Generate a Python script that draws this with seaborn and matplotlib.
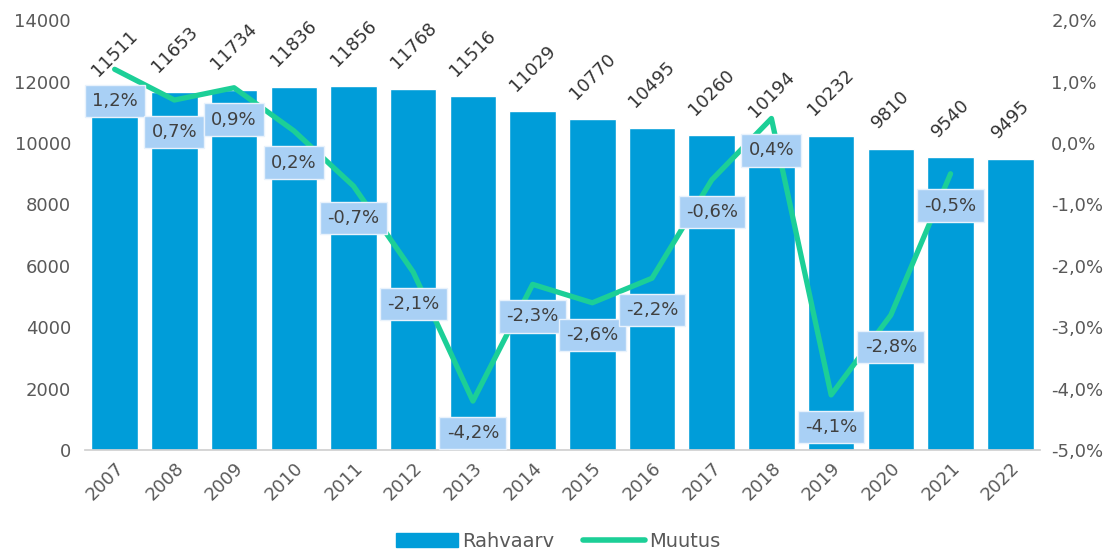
import seaborn as sns
import pandas as pd
import matplotlib.pyplot as plt
from matplotlib.lines import Line2D
from matplotlib.patches import Patch

years = [str(y) for y in range(2007, 2023)]
rahvaarv = [11511, 11653, 11734, 11836, 11856, 11768, 11516, 11029,
            10770, 10495, 10260, 10194, 10232, 9810, 9540, 9495]
muutus = [1.2, 0.7, 0.9, 0.2, -0.7, -2.1, -4.2, -2.3, -2.6, -2.2,
          -0.6, 0.4, -4.1, -2.8, -0.5]

bar_col = "#009DD9"
line_col = "#1CCF97"
txt_col = "#595959"

sns.set_theme(style="white")
plt.rcParams['font.family'] = ['DejaVu Sans']

df = pd.DataFrame({"aasta": years, "Rahvaarv": rahvaarv})
df2 = pd.DataFrame({"pos": list(range(len(muutus))), "Muutus": muutus})

fig = plt.figure(figsize=(11.16, 5.6), dpi=100)
ax = fig.add_axes([0.076, 0.196, 0.856, 0.768])
sns.barplot(data=df, x="aasta", y="Rahvaarv", color=bar_col, saturation=1,
            width=0.78, ax=ax)
ax.set_ylim(0, 14000)
ax.set_yticks(range(0, 14001, 2000))
ax.set_xlim(-0.5, 15.5)
ax.set(xlabel="", ylabel="")
ax.bar_label(ax.containers[0], labels=[str(v) for v in rahvaarv], rotation=45,
             padding=12, fontsize=13, color="#333333")
for s in ["top", "right", "left"]:
    ax.spines[s].set_visible(False)
ax.spines["bottom"].set_color("#D0D0D0")
ax.tick_params(axis="x", labelrotation=45, labelsize=13, colors=txt_col,
               length=0, pad=6)
ax.tick_params(axis="y", labelsize=13, colors=txt_col, length=0, pad=10)
for lab in ax.get_xticklabels():
    lab.set_ha("right")
    lab.set_rotation_mode("anchor")

ax2 = ax.twinx()
sns.lineplot(data=df2, x="pos", y="Muutus", color=line_col, linewidth=3.8, ax=ax2)
ax2.set_ylim(-5, 2)
ax2.set_yticks(range(-5, 3))
ax2.set_yticklabels([f"{v},0%" for v in range(-5, 3)])
ax2.set(xlabel="", ylabel="")
ax2.set_xlim(-0.5, 15.5)
for s in ["top", "right", "left", "bottom"]:
    ax2.spines[s].set_visible(False)
ax2.tick_params(axis="y", labelsize=13, colors=txt_col, length=0, pad=8)

for i, v in enumerate(muutus):
    ax2.annotate(f"{v:.1f}%".replace(".", ","), (i, v), xytext=(0, -23),
                 textcoords="offset points", ha="center", va="center",
                 fontsize=13, color="#404040",
                 bbox=dict(boxstyle="square,pad=0.4", fc="#A9D0F5",
                           ec="#E8F2FC", lw=1))

handles = [Patch(color=bar_col, label="Rahvaarv"),
           Line2D([0], [0], color=line_col, lw=4, label="Muutus")]
fig.legend(handles=handles, loc="lower center", bbox_to_anchor=(0.5, -0.015),
           ncol=2, frameon=False, fontsize=14, labelcolor=txt_col,
           handlelength=3.2, columnspacing=1.5, handletextpad=0.2)

plt.savefig("out.png", dpi=100)
